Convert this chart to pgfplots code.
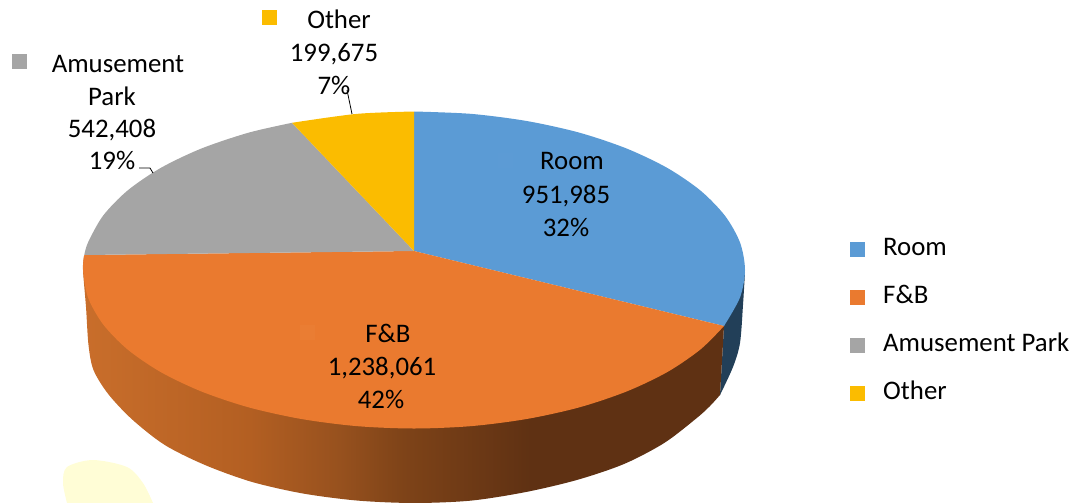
\documentclass[border=0pt]{standalone}
\usepackage{fontspec}
\setmainfont{Carlito}
\usepackage{pgfplots}
\pgfplotsset{compat=1.18}
\definecolor{cRoom}{HTML}{5B9BD5}
\definecolor{cFB}{HTML}{EA7A2F}
\definecolor{cAP}{HTML}{A5A5A5}
\definecolor{cOther}{HTML}{FBBC00}
\definecolor{cRoomSide}{HTML}{223F58}
\definecolor{sa}{HTML}{C96E2B}
\definecolor{sb}{HTML}{B35F22}
\definecolor{sc}{HTML}{97511E}
\definecolor{sd}{HTML}{7E4318}
\definecolor{se}{HTML}{5F3113}
\pgfdeclarehorizontalshading{sideshade}{100bp}{color(0bp)=(sa); color(25bp)=(sa); color(38bp)=(sb); color(45bp)=(sc); color(50bp)=(sd); color(60bp)=(se); color(75bp)=(se); color(100bp)=(se)}
\newcommand{\lbl}[3]{\node[anchor=base,inner sep=0pt,font=\fontsize{26.8}{32}\selectfont] at (axis cs:#1,#2) {#3};}
\begin{document}
\begin{tikzpicture}
\path[use as bounding box] (0,0) rectangle (1073pt,503pt);
\begin{axis}[
  at={(0,0)},anchor=south west,
  scale only axis,width=1073pt,height=503pt,
  xmin=0,xmax=1073,ymin=0,ymax=503,y dir=reverse,
  hide axis,
  legend style={at={(axis cs:850,236)},anchor=north west,draw=none,fill=none,inner sep=0pt,
    font=\fontsize{26.8}{32}\selectfont,row sep=23pt,
    nodes={inner sep=0pt,anchor=base west,text height=19pt,text depth=6pt}},
  legend cell align=left,
  legend image code/.code={\fill[#1] (23pt,-1.5pt) rectangle (38pt,13.5pt);},
]
% watermark
\addplot[forget plot,draw=none,fill=yellow!16!white,smooth] coordinates {(67,503)(63,483)(67,467)(93,460)(127,467)(143,483)(153,503)} --cycle;
% side walls
\addplot[forget plot,draw=none,fill=cRoomSide,smooth] coordinates {(720,395)(733,367)(740,343)(743,305)(745,272)} -- (axis cs:724,326) --cycle;
\addplot[forget plot,draw=none,shading=sideshade,smooth] coordinates {(84,256)(83,270)(86,307)(88.5,345)(93.5,370)(108.2,394)(132.2,419.5)(164.8,445)(205,465)(251.5,481.8)(303,493.5)(357.9,500.6)(414.5,503)(471.1,500.6)(526,492)(577.5,479.8)(624,464)(664.2,443)(696.8,418)(710,406)(720,395)} -- (axis cs:724,326) --cycle;
% top slices
\addplot[draw=none,fill=cRoom,smooth] coordinates {(414,111.5)(471.5,113.9)(527.2,121.1)(579.5,132.7)(626.8,148.6)(667.6,168.1)(700.7,190.75)(725,215.8)(740,242.5)(745,270)(740,297.5)(724,326)} -- (axis cs:414,251) --cycle;
\addlegendentry{\hspace*{18pt}Room}
\addplot[draw=none,fill=cFB,smooth] coordinates {(724,326)(700.7,349.25)(667.6,371.9)(626.8,391.4)(579.5,407.3)(527.2,418.9)(471.5,426.1)(414,428.5)(356.5,426.1)(300.8,418.9)(248.5,407.3)(201.2,391.4)(160.4,371.9)(127.3,349.25)(103,324.2)(88,297.5)(83,270)(84.3,255)} -- (axis cs:414,251) --cycle;
\addlegendentry{\hspace*{18pt}F\&B}
\addplot[draw=none,fill=cAP,smooth] coordinates {(84.3,255)(88,242.5)(103,215.8)(127.3,190.75)(160.4,168.1)(201.2,148.6)(248.5,132.7)(292,122.8)} -- (axis cs:414,251) --cycle;
\addlegendentry{\hspace*{18pt}Amusement Park}
\addplot[draw=none,fill=cOther,smooth] coordinates {(292,122.8)(356.5,113.9)(414,111.5)} -- (axis cs:414,251) --cycle;
\addlegendentry{\hspace*{18pt}Other}
% label keys
\addplot[forget plot,draw=none,fill=cAP] coordinates {(12,54)(27,54)(27,69)(12,69)} --cycle;
\addplot[forget plot,draw=none,fill=cOther] coordinates {(262,10)(277,10)(277,25)(262,25)} --cycle;
\addplot[forget plot,draw=none,fill=cFB!98!white] coordinates {(300,325)(315,325)(315,340)(300,340)} --cycle;
\addplot[forget plot,draw=none,fill=cRoom!99.5!white] coordinates {(498,153)(513,153)(513,168)(498,168)} --cycle;
% leaders
\addplot[forget plot,black,line width=0.8pt] coordinates {(347,90)(352,114)};
\addplot[forget plot,black,line width=0.8pt] coordinates {(139,168)(150,168)(153,173)};
% data labels
\lbl{572}{169}{Room}
\lbl{566}{203.5}{951,985}
\lbl{566}{236}{32\%}
\lbl{388}{342}{F\&B}
\lbl{382}{375}{1,238,061}
\lbl{381}{408}{42\%}
\lbl{118}{72}{Amusement}
\lbl{112}{105}{Park}
\lbl{112}{137.5}{542,408}
\lbl{112}{169}{19\%}
\lbl{339}{29}{Other}
\lbl{334}{62}{199,675}
\lbl{334}{94}{7\%}
\end{axis}
\end{tikzpicture}
\end{document}
